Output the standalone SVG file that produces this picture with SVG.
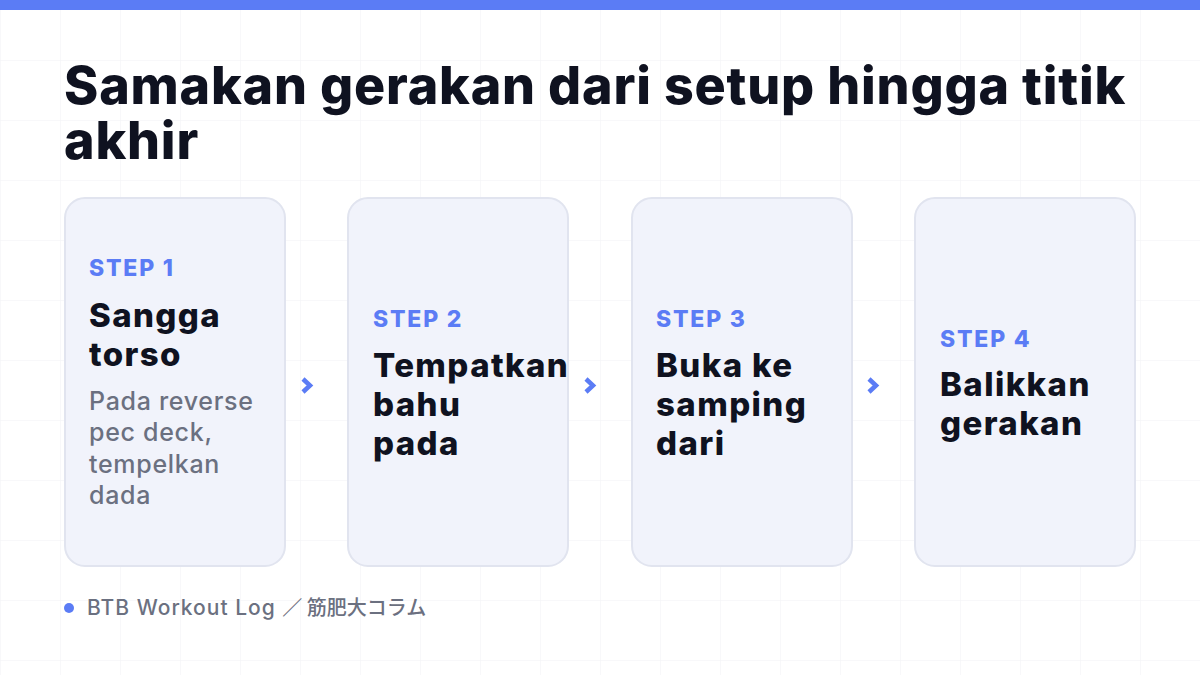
<svg xmlns="http://www.w3.org/2000/svg" width="1200" height="675" viewBox="0 0 1200 675">
<defs>
<pattern id="grid" width="60" height="60" patternUnits="userSpaceOnUse">
<path d="M0 0 H60 M0 0 V60" fill="none" stroke="#f1f2f5" stroke-width="1"/>
</pattern>
<style>
.card{fill:#f1f3fb;stroke:#e1e4ef;stroke-width:2}
.step{font-family:Inter,"Liberation Sans",sans-serif;font-weight:800;font-size:23px;letter-spacing:1.8px;fill:#5b7cf5}
.head{font-family:Inter,"Liberation Sans",sans-serif;font-weight:800;font-size:33px;letter-spacing:1.4px;fill:#0f1220}
.body{font-family:Inter,"Liberation Sans",sans-serif;font-weight:500;font-size:25px;letter-spacing:0.7px;fill:#6b7080}
.title{font-family:Inter,"Liberation Sans",sans-serif;font-weight:800;font-size:52px;letter-spacing:0.8px;fill:#0f1220}
.chev{fill:none;stroke:#5b7cf5;stroke-width:4.5;stroke-linecap:butt;stroke-linejoin:miter}
.foot{font-family:Inter,"Liberation Sans","Noto Sans CJK JP",sans-serif;font-weight:500;font-size:21px;letter-spacing:1px;fill:#6b7080}
.cjk{font-family:"Noto Sans CJK JP",sans-serif;font-size:20px;letter-spacing:0}
</style>
</defs>
<rect width="1200" height="675" fill="#ffffff"/>
<rect width="1200" height="675" fill="url(#grid)"/>
<rect x="0" y="0" width="1200" height="10" fill="#5b7cf5"/>
<g id="title">
<text class="title" x="64" y="104">Samakan gerakan dari setup hingga titik</text>
<text class="title" x="64" y="159">akhir</text>
</g>
<g id="step1">
<rect class="card" x="65" y="198" width="220" height="368" rx="20"/>
<text class="step" x="89" y="276">STEP 1</text>
<text class="head" x="89" y="327">Sangga</text>
<text class="head" x="89" y="366">torso</text>
<text class="body" x="89" y="410">Pada reverse</text>
<text class="body" x="89" y="441">pec deck,</text>
<text class="body" x="89" y="473">tempelkan</text>
<text class="body" x="89" y="504">dada</text>
</g>
<g id="step2">
<rect class="card" x="348" y="198" width="220" height="368" rx="20"/>
<text class="step" x="373" y="327">STEP 2</text>
<text class="head" x="373" y="377">Tempatkan</text>
<text class="head" x="373" y="416">bahu</text>
<text class="head" x="373" y="455">pada</text>
</g>
<g id="step3">
<rect class="card" x="632" y="198" width="220" height="368" rx="20"/>
<text class="step" x="656" y="327">STEP 3</text>
<text class="head" x="656" y="377">Buka ke</text>
<text class="head" x="656" y="416">samping</text>
<text class="head" x="656" y="455">dari</text>
</g>
<g id="step4">
<rect class="card" x="915" y="198" width="220" height="368" rx="20"/>
<text class="step" x="940" y="347">STEP 4</text>
<text class="head" x="940" y="396">Balikkan</text>
<text class="head" x="940" y="435">gerakan</text>
</g>
<g id="connectors">
<path class="chev" d="M303 379 L310 385.5 L303 392"/>
<path class="chev" d="M586 379 L593 385.5 L586 392"/>
<path class="chev" d="M869 379 L876 385.5 L869 392"/>
</g>
<g id="footer">
<circle cx="69" cy="608" r="5" fill="#5b7cf5"/>
<text class="foot" x="87" y="615">BTB Workout Log <tspan class="cjk">／ 筋肥大コラム</tspan></text>
</g>
</svg>
